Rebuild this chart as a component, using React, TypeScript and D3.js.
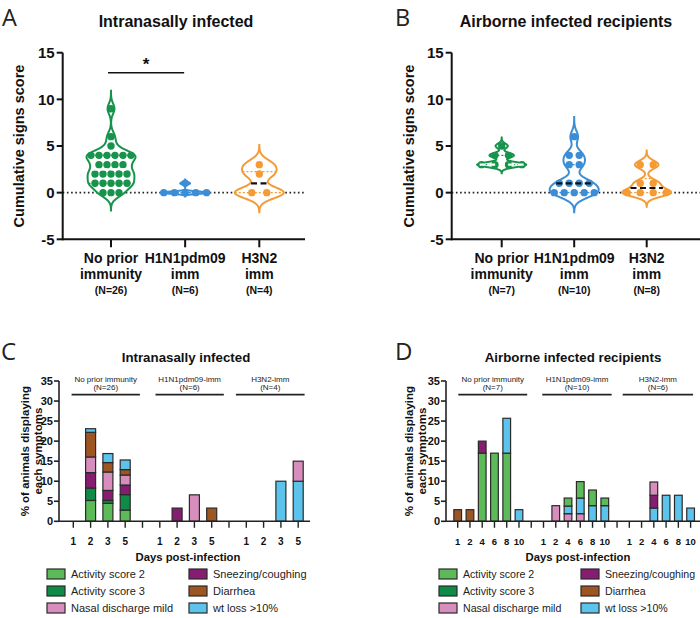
import React from "react";
import * as d3 from "d3";

const FONT = "'Liberation Sans', Arial, Helvetica, sans-serif";
const LETTER_FONT = "'Open Sans', 'DejaVu Sans', sans-serif";

// ---------- Panels A & B : cumulative signs score ----------
const violinCatLine1 = ["No prior", "H1N1pdm09", "H3N2"];
const violinCatLine2 = ["immunity", "imm", "imm"];
const violinNA = ["(N=26)", "(N=6)", "(N=4)"];
const violinNB = ["(N=7)", "(N=10)", "(N=8)"];
const scoreTicks = [-5, 0, 5, 10, 15];

const scoreA_noPrior = [9, 6, 5, 4, 4, 4, 4, 4, 4, 3, 3, 3, 3, 2, 2, 2, 2, 2, 1, 1, 1, 1, 1, 0, 0, 0];
const scoreA_h1n1 = [1, 0, 0, 0, 0, 0];
const scoreA_h3n2 = [3, 2, 0, 0];
const scoreB_noPrior = [5, 4, 4, 3, 3, 3, 3];
const scoreB_h1n1 = [6, 4, 4, 3, 3, 1, 1, 1, 1, 0, 0, 0, 0, 0];
const scoreB_h3n2 = [3, 3, 1, 1, 0, 0, 0, 0];

const violinColors = ["#17944B", "#3B8ED6", "#F59B36"];

// ---------- Panels C & D : % of animals displaying each symptom ----------
const symptomNames = [
  "Activity score 2",
  "Activity score 3",
  "Nasal discharge mild",
  "Sneezing/coughing",
  "Diarrhea",
  "wt loss >10%",
];
const symptomColors = ["#5DBA58", "#0E8B47", "#D78EBD", "#861D70", "#9D5622", "#5CC3EC"];

const groupHeaders = ["No prior immunity", "H1N1pdm09-imm", "H3N2-imm"];
const nC = ["(N=26)", "(N=6)", "(N=4)"];
const nD = ["(N=7)", "(N=10)", "(N=6)"];
const daysC = ["1", "2", "3", "5"];
const daysD = ["1", "2", "4", "6", "8", "10"];
const pctTicks = [0, 5, 10, 15, 20, 25, 30, 35];

// Panel C (days 1,2,3,5)
const cNoPriorOrder = ["Activity score 2", "Activity score 3", "Sneezing/coughing", "Nasal discharge mild", "Diarrhea", "wt loss >10%"];
const cNoPriorValues = [
  [0, 5.2, 4.5, 2.8],
  [0, 3.1, 0.7, 3.85],
  [0, 3.85, 2.5, 2.4],
  [0, 3.9, 4.6, 2.5],
  [0, 6.15, 2.35, 1.35],
  [0, 0.9, 2.25, 2.4],
];
const cH1N1Order = ["Sneezing/coughing", "Nasal discharge mild", "Diarrhea"];
const cH1N1Values = [
  [0, 3.3, 0, 0],
  [0, 0, 6.6, 0],
  [0, 0, 0, 3.3],
];
const cH3N2Order = ["wt loss >10%", "Nasal discharge mild"];
const cH3N2Values = [
  [0, 0, 10, 10],
  [0, 0, 0, 5],
];

// Panel D (days 1,2,4,6,8,10)
const dNoPriorOrder = ["Activity score 2", "Sneezing/coughing", "Diarrhea", "wt loss >10%"];
const dNoPriorValues = [
  [0, 0, 17, 17, 17, 0],
  [0, 0, 3, 0, 0, 0],
  [2.9, 2.9, 0, 0, 0, 0],
  [0, 0, 0, 0, 8.7, 2.9],
];
const dH1N1Order = ["Nasal discharge mild", "wt loss >10%", "Activity score 2"];
const dH1N1Values = [
  [0, 3.9, 1.9, 1.9, 0, 0],
  [0, 0, 1.9, 3.9, 3.9, 3.9],
  [0, 0, 2.0, 4.1, 3.9, 1.9],
];
const dH3N2Order = ["wt loss >10%", "Sneezing/coughing", "Nasal discharge mild"];
const dH3N2Values = [
  [0, 0, 3.3, 6.5, 6.5, 3.3],
  [0, 0, 3.2, 0, 0, 0],
  [0, 0, 3.3, 0, 0, 0],
];

const colorOf = (name: string) => symptomColors[symptomNames.indexOf(name)];

// ---------------- Violin panel ----------------
type ViolinCfg = {
  letter: string;
  letterX: number;
  title: string;
  titleX: number;
  axisX: number;
  axisEnd: number;
  catRange: [number, number];
  yLabelX: number;
  groups: number[][];
  nLabels: string[];
  bws: number[];
  spacings: number[];
  medianColors: string[];
  sig?: boolean;
};

const HALF_W = 24.5;
const DOT_R = 3.7;

function Violin({ values, cx, y, color, bw, spacing, medianColor }: any) {
  const ext = 3.5 * bw;
  const lo = (d3.min(values) as number) - ext;
  const hi = (d3.max(values) as number) + ext;
  const dens = (t: number) => d3.sum(values, (v: number) => Math.exp(-0.5 * ((t - v) / bw) ** 2));
  const samples = d3.range(301).map((i) => lo + ((hi - lo) * i) / 300);
  const maxD = Math.max(d3.max(samples, dens) as number, d3.max(values, dens) as number);
  const hw = (t: number) => (dens(t) / maxD) * HALF_W;
  const area = d3
    .area<number>()
    .y((t) => y(t))
    .x0((t) => cx - hw(t))
    .x1((t) => cx + hw(t))
    .curve(d3.curveCatmullRom);
  const sorted = values.slice().sort(d3.ascending);
  const q1 = d3.quantile(sorted, 0.25) as number;
  const med = d3.quantile(sorted, 0.5) as number;
  const q3 = d3.quantile(sorted, 0.75) as number;
  const rows = d3.groups(values, (v: number) => v);
  return (
    <g>
      <path d={area(samples) || ""} fill="#fff" stroke={color} strokeWidth={2} />
      {[q1, q3].map((q, i) => (
        <line
          key={"q" + i}
          x1={cx - hw(q)}
          x2={cx + hw(q)}
          y1={y(q)}
          y2={y(q)}
          stroke={color}
          strokeWidth={1.3}
          strokeDasharray="2 2"
        />
      ))}
      {rows.map(([v, arr]) =>
        arr.map((_: number, j: number) => (
          <circle
            key={v + "-" + j}
            cx={cx + (j - (arr.length - 1) / 2) * spacing}
            cy={y(v)}
            r={DOT_R}
            fill={color}
          />
        ))
      )}
      <line
        x1={cx - hw(med) * 0.9}
        x2={cx + hw(med) * 0.9}
        y1={y(med)}
        y2={y(med)}
        stroke={medianColor}
        strokeWidth={2.2}
        strokeDasharray="6 3.5"
      />
    </g>
  );
}

function ViolinPanel({ cfg }: { cfg: ViolinCfg }) {
  const y = d3.scaleLinear().domain([-5, 15]).range([239.3, 52.7]);
  const x = d3.scaleLinear().domain([0, 2]).range(cfg.catRange);
  const yMid = (y(15) + y(-5)) / 2;
  return (
    <g fontFamily={FONT}>
      <text x={cfg.letterX} y={26} fontFamily={LETTER_FONT} fontSize={23.5} fill="#222">
        {cfg.letter}
      </text>
      <text x={cfg.titleX} y={27} textAnchor="middle" fontSize={16} fontWeight="bold" fill="#111">
        {cfg.title}
      </text>
      <text
        transform={`translate(${cfg.yLabelX},${yMid}) rotate(-90)`}
        textAnchor="middle"
        fontSize={14.5}
        fontWeight="bold"
        fill="#111"
      >
        Cumulative signs score
      </text>
      <line
        x1={cfg.axisX}
        x2={cfg.axisEnd}
        y1={y(0)}
        y2={y(0)}
        stroke="#222"
        strokeWidth={1.6}
        strokeDasharray="1.6 2.6"
      />
      {cfg.groups.map((vals, i) => (
        <Violin
          key={i}
          values={vals}
          cx={x(i)}
          y={y}
          color={violinColors[i]}
          bw={cfg.bws[i]}
          spacing={cfg.spacings[i]}
          medianColor={cfg.medianColors[i]}
        />
      ))}
      {/* y axis */}
      <line x1={cfg.axisX} x2={cfg.axisX} y1={y(15)} y2={y(-5) + 1} stroke="#111" strokeWidth={2} />
      {scoreTicks.map((t) => (
        <g key={t}>
          <line x1={cfg.axisX - 6} x2={cfg.axisX} y1={y(t)} y2={y(t)} stroke="#111" strokeWidth={2} />
          <text
            x={cfg.axisX - 8}
            y={y(t) + 5.3}
            textAnchor="end"
            fontSize={15}
            fontWeight="bold"
            fill="#111"
          >
            {t}
          </text>
        </g>
      ))}
      {/* x axis */}
      <line x1={cfg.axisX} x2={cfg.axisEnd} y1={y(-5)} y2={y(-5)} stroke="#111" strokeWidth={2} />
      {violinCatLine1.map((c, i) => (
        <g key={c}>
          <line x1={x(i)} x2={x(i)} y1={y(-5)} y2={y(-5) + 8} stroke="#111" strokeWidth={2} />
          <text x={x(i)} y={263} textAnchor="middle" fontSize={14} fontWeight="bold" fill="#111">
            {c}
          </text>
          <text x={x(i)} y={279} textAnchor="middle" fontSize={14} fontWeight="bold" fill="#111">
            {violinCatLine2[i]}
          </text>
          <text x={x(i)} y={294} textAnchor="middle" fontSize={10.5} fontWeight="bold" fill="#111">
            {cfg.nLabels[i]}
          </text>
        </g>
      ))}
      {cfg.sig && (
        <g>
          <line x1={x(0) - 3} x2={x(1) - 1} y1={72.7} y2={72.7} stroke="#111" strokeWidth={1.6} />
          <text x={(x(0) + x(1)) / 2 - 2} y={70} textAnchor="middle" fontSize={17} fontWeight="bold" fill="#111">
            *
          </text>
        </g>
      )}
    </g>
  );
}

// ---------------- Bar panel ----------------
type BarGroup = { order: string[]; values: number[][] };
type BarCfg = {
  letter: string;
  letterX: number;
  title: string;
  titleX: number;
  axisX: number;
  axisEnd: number;
  slotRange: [number, number];
  nSlots: number;
  groupStarts: number[];
  days: string[];
  groups: BarGroup[];
  nLabels: string[];
  headerSpans: [number, number][];
  barWidth: number;
  dayFont: number;
  xTitleX: number;
  yLabelX: [number, number];
  legendX: [number, number];
  legendFont: number;
};

function BarPanel({ cfg }: { cfg: BarCfg }) {
  const y = d3.scaleLinear().domain([0, 35]).range([521.3, 381]);
  const xs = d3.scaleLinear().domain([0, cfg.nSlots - 1]).range(cfg.slotRange);
  const yMid = (y(0) + y(35)) / 2;
  const legendRows = [574, 591, 608];
  const legendCols = [
    [0, 1, 2],
    [3, 4, 5],
  ];
  return (
    <g fontFamily={FONT}>
      <text x={cfg.letterX} y={360} fontFamily={LETTER_FONT} fontSize={24} fill="#222">
        {cfg.letter}
      </text>
      <text x={cfg.titleX} y={361.5} textAnchor="middle" fontSize={13.3} fontWeight="bold" fill="#111">
        {cfg.title}
      </text>
      {["% of animals displaying", "each symptoms"].map((t, i) => (
        <text
          key={t}
          transform={`translate(${cfg.yLabelX[i]},${yMid}) rotate(-90)`}
          textAnchor="middle"
          fontSize={11.5}
          fontWeight="bold"
          fill="#111"
        >
          {t}
        </text>
      ))}
      {/* group headers */}
      {groupHeaders.map((h, g) => {
        const [a, b] = cfg.headerSpans[g];
        const x1 = xs(a);
        const x2 = Math.min(xs(b), 700);
        const cx = (x1 + x2) / 2;
        return (
          <g key={h}>
            <text x={cx} y={381.8} textAnchor="middle" fontSize={8} fill="#222">
              {h}
            </text>
            <text x={cx} y={390} textAnchor="middle" fontSize={8} fill="#222">
              {cfg.nLabels[g]}
            </text>
            <line x1={x1} x2={x2} y1={394.6} y2={394.6} stroke="#222" strokeWidth={1.6} />
          </g>
        );
      })}
      {/* bars */}
      {cfg.groups.map((grp, g) => {
        const rows = cfg.days.map((d, i) => {
          const r: any = { day: d };
          grp.order.forEach((k, j) => (r[k] = grp.values[j][i]));
          return r;
        });
        const stacked = d3.stack<any>().keys(grp.order)(rows);
        return stacked.map((s) =>
          s.map((seg, i) => {
            if (seg[1] - seg[0] < 0.01) return null;
            const cx = xs(cfg.groupStarts[g] + i);
            return (
              <rect
                key={g + s.key + i}
                x={cx - cfg.barWidth / 2}
                y={y(seg[1])}
                width={cfg.barWidth}
                height={y(seg[0]) - y(seg[1])}
                fill={colorOf(s.key)}
                stroke="#2a2a2a"
                strokeWidth={1.2}
              />
            );
          })
        );
      })}
      {/* y axis */}
      <line x1={cfg.axisX} x2={cfg.axisX} y1={y(35)} y2={y(0) + 0.8} stroke="#222" strokeWidth={1.6} />
      {pctTicks.map((t) => (
        <g key={t}>
          <line x1={cfg.axisX - 5} x2={cfg.axisX} y1={y(t)} y2={y(t)} stroke="#222" strokeWidth={1.6} />
          <text x={cfg.axisX - 6} y={y(t) + 4} textAnchor="end" fontSize={11} fontWeight="bold" fill="#111">
            {t}
          </text>
        </g>
      ))}
      {/* x axis */}
      <line x1={cfg.axisX} x2={cfg.axisEnd} y1={y(0)} y2={y(0)} stroke="#222" strokeWidth={1.6} />
      {d3.range(cfg.nSlots).map((i) => (
        <line key={i} x1={xs(i)} x2={xs(i)} y1={y(0)} y2={y(0) + 6.5} stroke="#222" strokeWidth={1.4} />
      ))}
      {cfg.groupStarts.map((s) =>
        cfg.days.map((d, i) => (
          <text
            key={s + "-" + d}
            x={xs(s + i)}
            y={545}
            textAnchor="middle"
            fontSize={cfg.dayFont}
            fontWeight="bold"
            fill="#111"
          >
            {d}
          </text>
        ))
      )}
      <text x={cfg.xTitleX} y={561} textAnchor="middle" fontSize={11.3} fontWeight="bold" fill="#111">
        Days post-infection
      </text>
      {/* legend */}
      {legendCols.map((col, c) =>
        col.map((si, r) => (
          <g key={si}>
            <rect
              x={cfg.legendX[c]}
              y={legendRows[r] - 5}
              width={18}
              height={10}
              fill={symptomColors[si]}
              stroke="#2a2a2a"
              strokeWidth={1.2}
            />
            <text x={cfg.legendX[c] + 24} y={legendRows[r] + 4} fontSize={cfg.legendFont} fill="#222">
              {symptomNames[si]}
            </text>
          </g>
        ))
      )}
    </g>
  );
}

const panelA: ViolinCfg = {
  letter: "A",
  letterX: 2,
  title: "Intranasally infected",
  titleX: 176,
  axisX: 62.7,
  axisEnd: 305,
  catRange: [111, 259.3],
  yLabelX: 23.5,
  groups: [scoreA_noPrior, scoreA_h1n1, scoreA_h3n2],
  nLabels: violinNA,
  bws: [0.55, 0.12, 0.6],
  spacings: [8, 10.7, 15],
  medianColors: ["#ffffff", "#3B8ED6", "#111111"],
  sig: true,
};

const panelB: ViolinCfg = {
  letter: "B",
  letterX: 395,
  title: "Airborne infected recipients",
  titleX: 566,
  axisX: 451.7,
  axisEnd: 700,
  catRange: [501.7, 646.7],
  yLabelX: 413.5,
  groups: [scoreB_noPrior, scoreB_h1n1, scoreB_h3n2],
  nLabels: violinNB,
  bws: [0.26, 0.6, 0.43],
  spacings: [13.5, 10, 13],
  medianColors: ["#ffffff", "#111111", "#111111"],
};

const panelC: BarCfg = {
  letter: "C",
  letterX: 1,
  title: "Intranasally infected",
  titleX: 186,
  axisX: 59,
  axisEnd: 310,
  slotRange: [73.3, 298.2],
  nSlots: 14,
  groupStarts: [0, 5, 10],
  days: daysC,
  groups: [
    { order: cNoPriorOrder, values: cNoPriorValues },
    { order: cH1N1Order, values: cH1N1Values },
    { order: cH3N2Order, values: cH3N2Values },
  ],
  nLabels: nC,
  headerSpans: [
    [-0.1, 3.85],
    [4.75, 8.7],
    [9.4, 13.37],
  ],
  barWidth: 10,
  dayFont: 10,
  xTitleX: 188,
  yLabelX: [28.5, 41.5],
  legendX: [47, 189],
  legendFont: 11,
};

const panelD: BarCfg = {
  letter: "D",
  letterX: 395,
  title: "Airborne infected recipients",
  titleX: 573,
  axisX: 446,
  axisEnd: 700,
  slotRange: [457.7, 690.6],
  nSlots: 20,
  groupStarts: [0, 7, 14],
  days: daysD,
  groups: [
    { order: dNoPriorOrder, values: dNoPriorValues },
    { order: dH1N1Order, values: dH1N1Values },
    { order: dH3N2Order, values: dH3N2Values },
  ],
  nLabels: nD,
  headerSpans: [
    [0.05, 5.67],
    [6.9, 12.56],
    [13.46, 19.2],
  ],
  barWidth: 7.7,
  dayFont: 9.5,
  xTitleX: 578,
  yLabelX: [412.5, 425.5],
  legendX: [439, 581],
  legendFont: 10.6,
};

export default function App() {
  return (
    <svg
      width={700}
      height={618}
      viewBox="0 0 700 618"
      style={{ position: "absolute", left: 0, top: 0, background: "#fff" }}
    >
      <rect x={0} y={0} width={700} height={618} fill="#fff" />
      <ViolinPanel cfg={panelA} />
      <ViolinPanel cfg={panelB} />
      <BarPanel cfg={panelC} />
      <BarPanel cfg={panelD} />
    </svg>
  );
}
